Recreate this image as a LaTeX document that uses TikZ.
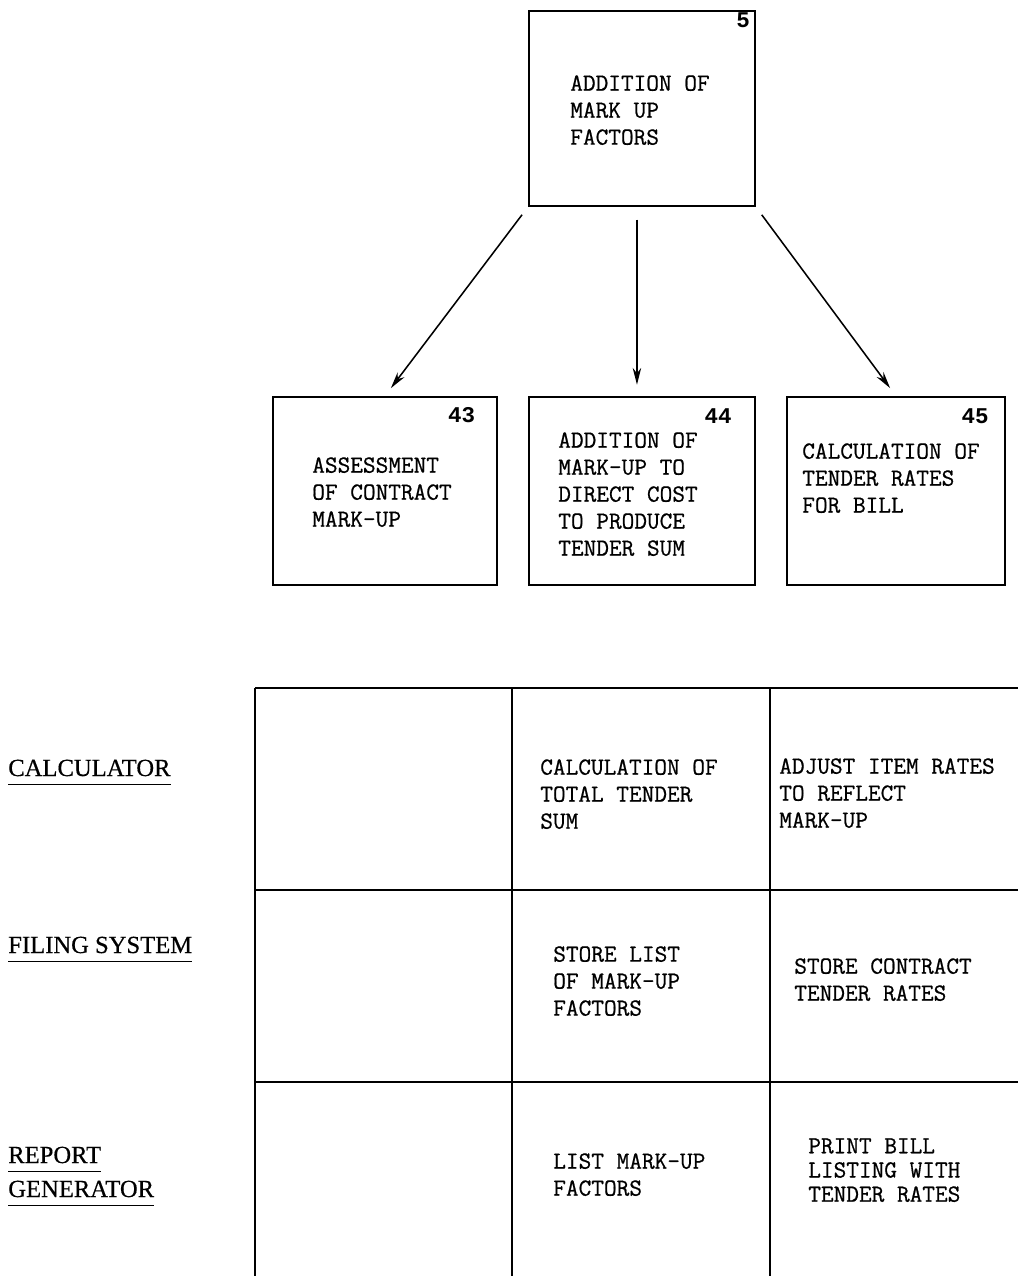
\documentclass[tikz,border=0pt]{standalone}
\usepackage{fontspec}
\newfontfamily\typefont{Latin Modern Mono}[FakeBold=0.7]
\newfontfamily\numfont{Liberation Mono Bold}
\newfontfamily\rowfont{Liberation Serif}[FakeBold=0.5]
\usetikzlibrary{arrows.meta, positioning, calc}

\begin{document}
\begin{tikzpicture}[
  x=0.025cm, y=-0.025cm,
  proc/.style={draw, line width=1.3pt, inner sep=0pt, anchor=north west},
  txt/.style={anchor=north west, inner sep=0pt, align=left,
    font=\fontsize{17.5}{19.2}\selectfont\typefont},
  num/.style={anchor=north east, inner sep=0pt,
    font=\fontsize{16}{19}\selectfont\numfont},
  row/.style={anchor=base west, inner sep=0pt,
    font=\fontsize{17.5}{20}\selectfont\rowfont},
  grid/.style={line width=1.2pt},
  rule/.style={line width=1.3pt},
  >={Stealth[length=12pt, width=6pt]}
]
  \useasboundingbox (0,0) rectangle (1018,1276);

  % Top process
  \node[proc, minimum width=5.65cm, minimum height=4.875cm] (top) at (528,10) {};
  \node[num] (ntop) at ([xshift=-4pt, yshift=-2pt]top.north east) {5};
  \node[txt] (ttop) at (570,75) {ADDITION OF\\MARK UP\\FACTORS};

  % Sub processes
  \node[proc, minimum width=5.6cm, minimum height=4.7cm] (p43) at (272,396) {};
  \node[proc, minimum width=5.65cm, minimum height=4.7cm] (p44) at (528,396) {};
  \node[proc, minimum width=5.45cm, minimum height=4.7cm] (p45) at (786,396) {};
  \node[num] (n43) at ([xshift=-16pt, yshift=-8pt]p43.north east) {43};
  \node[num] (n44) at ([xshift=-17pt, yshift=-9pt]p44.north east) {44};
  \node[num] (n45) at ([xshift=-12pt, yshift=-9pt]p45.north east) {45};
  \node[txt] (t43) at (312,457) {ASSESSMENT\\OF CONTRACT\\MARK-UP};
  \node[txt] (t44) at (558,432) {ADDITION OF\\MARK-UP TO\\DIRECT COST\\TO PRODUCE\\TENDER SUM};
  \node[txt] (t45) at (802,443) {CALCULATION OF\\TENDER RATES\\FOR BILL};

  % Connections
  \draw[->, line width=1.1pt, shorten <=7pt, shorten >=7pt] (top.south west) -- (p43.north);
  \draw[->, line width=1.1pt, shorten <=9pt, shorten >=8pt]
    ([xshift=-0.125cm]top.south) -- ([xshift=-0.125cm]p44.north);
  \draw[->, line width=1.1pt, shorten <=7pt, shorten >=7pt] (top.south east) -- (p45.north);

  % Table grid
  \draw[grid] (255,688) -- (1018,688);
  \foreach \y in {890,1082}
    \draw[grid] (255,\y) -- (1018,\y);
  \foreach \x in {255,512,770}
    \draw[grid] (\x,688) -- (\x,1276);

  % Row labels
  \node[row] (rcalc) at (8,776) {CALCULATOR};
  \node[row] (rfile) at (8,953) {FILING SYSTEM};
  \node[row] (rrep) at (8,1163) {REPORT};
  \node[row] (rgen) at (8,1197) {GENERATOR};
  \foreach \r in {rcalc,rfile,rrep,rgen}
    \draw[rule] ([yshift=-6pt]\r.base west) -- ([yshift=-6pt]\r.base east);

  % Cells
  \node[txt] (c12) at (540,759) {CALCULATION OF\\TOTAL TENDER\\SUM};
  \node[txt] (c13) at (779,758) {ADJUST ITEM RATES\\TO REFLECT\\MARK-UP};
  \node[txt] (c22) at (553,946) {STORE LIST\\OF MARK-UP\\FACTORS};
  \node[txt] (c23) at (794,958) {STORE CONTRACT\\TENDER RATES};
  \node[txt] (c32) at (553,1153) {LIST MARK-UP\\FACTORS};
  \node[txt, font=\fontsize{17.5}{17.2}\selectfont\typefont] (c33) at (808,1138)
    {PRINT BILL\\LISTING WITH\\TENDER RATES};
\end{tikzpicture}
\end{document}
